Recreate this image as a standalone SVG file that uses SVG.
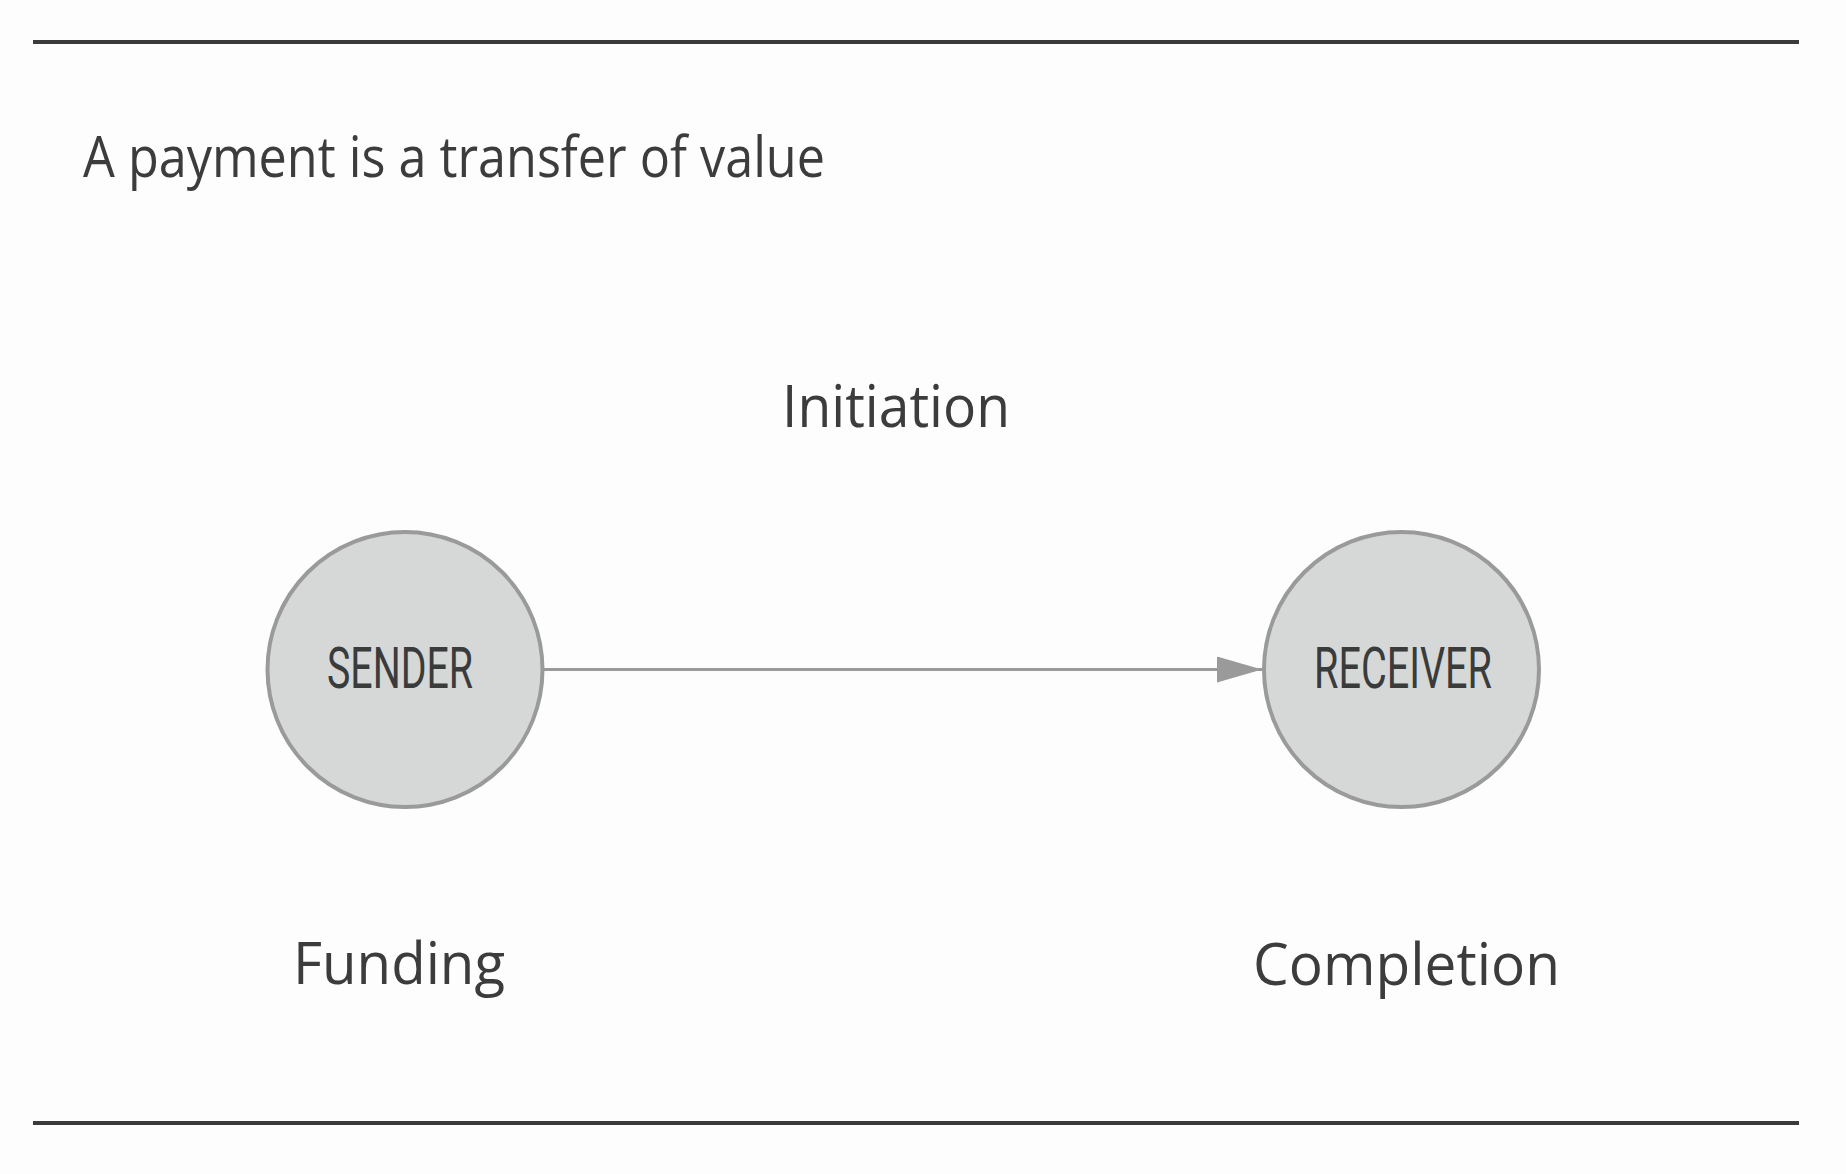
<svg xmlns="http://www.w3.org/2000/svg" width="1846" height="1174" viewBox="0 0 1846 1174">
<style>
.rule{stroke:#3b3b3b;stroke-width:4;fill:none}
.lbl{font-family:"Open Sans","Noto Sans","Liberation Sans",sans-serif;fill:#3c3c3c}
.node{fill:#d6d8d8;stroke:#9a9a9a;stroke-width:4}
.ntext{font-family:"Roboto","Open Sans","Liberation Sans",sans-serif;fill:#3a3b3b;font-size:58px}
.edge{stroke:#9a9a9a;stroke-width:3;fill:none}
</style>
<defs>
<marker id="arrow" markerUnits="userSpaceOnUse" markerWidth="46" markerHeight="26" refX="45" refY="13" orient="auto">
<path d="M0,0 L45,13 L0,26 Z" fill="#9a9a9a"/>
</marker>
</defs>
<rect width="1846" height="1174" fill="#fdfdfd"/>
<line class="rule" x1="33" y1="42" x2="1799" y2="42"/>
<line class="rule" x1="33" y1="1123" x2="1799" y2="1123"/>
<text class="lbl" x="83" y="177" font-size="56" textLength="742" lengthAdjust="spacingAndGlyphs">A payment is a transfer of value</text>
<text class="lbl" x="782" y="427" font-size="58" textLength="228" lengthAdjust="spacingAndGlyphs">Initiation</text>
<text class="lbl" x="293" y="984" font-size="58" textLength="212" lengthAdjust="spacingAndGlyphs">Funding</text>
<text class="lbl" x="1253" y="985" font-size="58" textLength="307" lengthAdjust="spacingAndGlyphs">Completion</text>
<g id="connectors">
<line class="edge" x1="544" y1="669.5" x2="1262" y2="669.5" marker-end="url(#arrow)"/>
</g>
<g id="sender">
<circle class="node" cx="405" cy="669.5" r="137.5"/>
<text class="ntext" x="327" y="688" textLength="146" lengthAdjust="spacingAndGlyphs">SENDER</text>
</g>
<g id="receiver">
<circle class="node" cx="1401.5" cy="669.5" r="137.5"/>
<text class="ntext" x="1314" y="688" textLength="178" lengthAdjust="spacingAndGlyphs">RECEIVER</text>
</g>
</svg>
